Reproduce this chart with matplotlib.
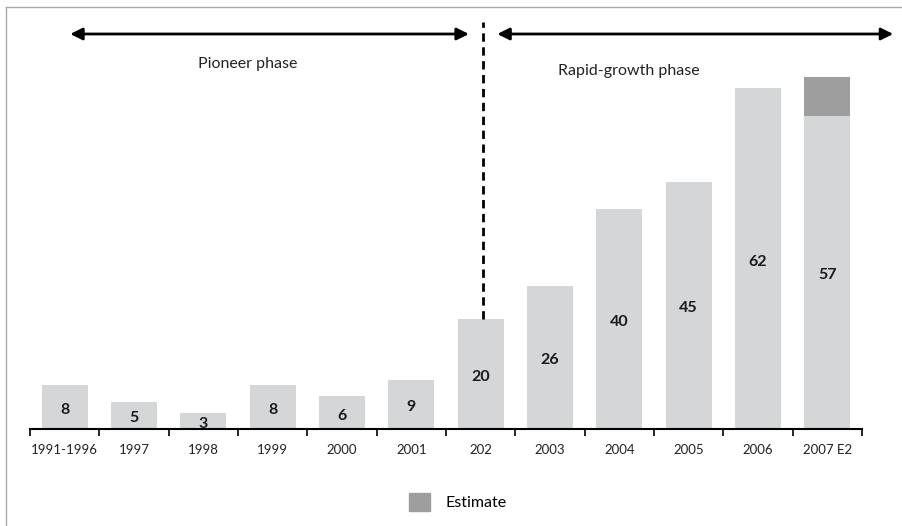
import matplotlib.pyplot as plt
from matplotlib.patches import Patch
from matplotlib.lines import Line2D
import numpy as np

plt.rcParams['font.family'] = ['Lato', 'DejaVu Sans']

# data
categories = ['1991-1996', '1997', '1998', '1999', '2000', '2001', '202',
              '2003', '2004', '2005', '2006', '2007 E2']
values = [8, 5, 3, 8, 6, 9, 20, 26, 40, 45, 62, 57]
estimate = [0, 0, 0, 0, 0, 0, 0, 0, 0, 0, 0, 7]
phase_labels = ['Pioneer phase', 'Rapid-growth phase']

light = '#d5d6d8'
dark = '#9d9e9d'

fig = plt.figure(figsize=(9.03, 5.26), dpi=100)
W, H = 903, 526
# axes: baseline at y=429px, x from 30 to 862 px, top at 7 px
ax = fig.add_axes([30 / W, (H - 429) / H, 832 / W, (429 - 7) / H])

x = np.arange(len(categories))
ax.bar(x, values, width=0.66, color=light)
ax.bar(x, estimate, width=0.66, bottom=values, color=dark)

# value labels, sitting a little below the bar middle
for xi, v in zip(x, values):
    ax.text(xi, v / 2, str(v), ha='center', va='center', fontsize=11.5,
            fontweight='bold', color='#1a1a1a',
            transform=ax.transData + plt.matplotlib.transforms.ScaledTranslation(0, -3 / 100, fig.dpi_scale_trans))

ax.set_xlim(-0.5, 11.5)
ax.set_ylim(0, (429 - 7) / 5.5)

for s in ['top', 'right', 'left']:
    ax.spines[s].set_visible(False)
ax.spines['bottom'].set_linewidth(1.5)
ax.set_yticks([])
ax.set_xticks(x)
ax.set_xticklabels(categories, fontsize=9.5, color='#222222')
ax.tick_params(axis='x', which='major', length=0, pad=11)
ax.set_xticks(np.arange(-0.5, 12, 1), minor=True)
ax.tick_params(axis='x', which='minor', length=5, width=1.2, direction='out')

# phase arrows
y_arr = (429 - 34) / 5.5
ax.annotate('', xy=(0.08, y_arr), xytext=(5.83, y_arr), annotation_clip=False,
            arrowprops=dict(arrowstyle='<|-|>', color='black', lw=2,
                            mutation_scale=18, shrinkA=0, shrinkB=0))
ax.annotate('', xy=(6.24, y_arr), xytext=(11.95, y_arr), annotation_clip=False,
            arrowprops=dict(arrowstyle='<|-|>', color='black', lw=2,
                            mutation_scale=18, shrinkA=0, shrinkB=0))
ax.plot([6.03, 6.03], [values[6], (429 - 22) / 5.5], color='black', lw=2,
        linestyle=(0, (3, 2)), clip_on=False)

ax.text(2.64, (429 - 64) / 5.5, phase_labels[0], ha='center', va='center',
        fontsize=11.5, color='#222222')
ax.text(8.13, (429 - 71) / 5.5, phase_labels[1], ha='center', va='center',
        fontsize=11.5, color='#222222')

# frame lines (left and top)
fig.add_artist(Line2D([6 / W, 6 / W], [0, 1 - 7 / H], transform=fig.transFigure,
                      color='#aaaaaa', lw=1))
fig.add_artist(Line2D([6 / W, 1], [1 - 7 / H, 1 - 7 / H], transform=fig.transFigure,
                      color='#aaaaaa', lw=1))

fig.legend(handles=[Patch(color=dark, label='Estimate')], loc='center',
           bbox_to_anchor=(458 / W, 1 - 502 / H), frameon=False, fontsize=11.5,
           handlelength=1.3, handleheight=1.3, handletextpad=1.0)

fig.savefig('out.png', dpi=100)
